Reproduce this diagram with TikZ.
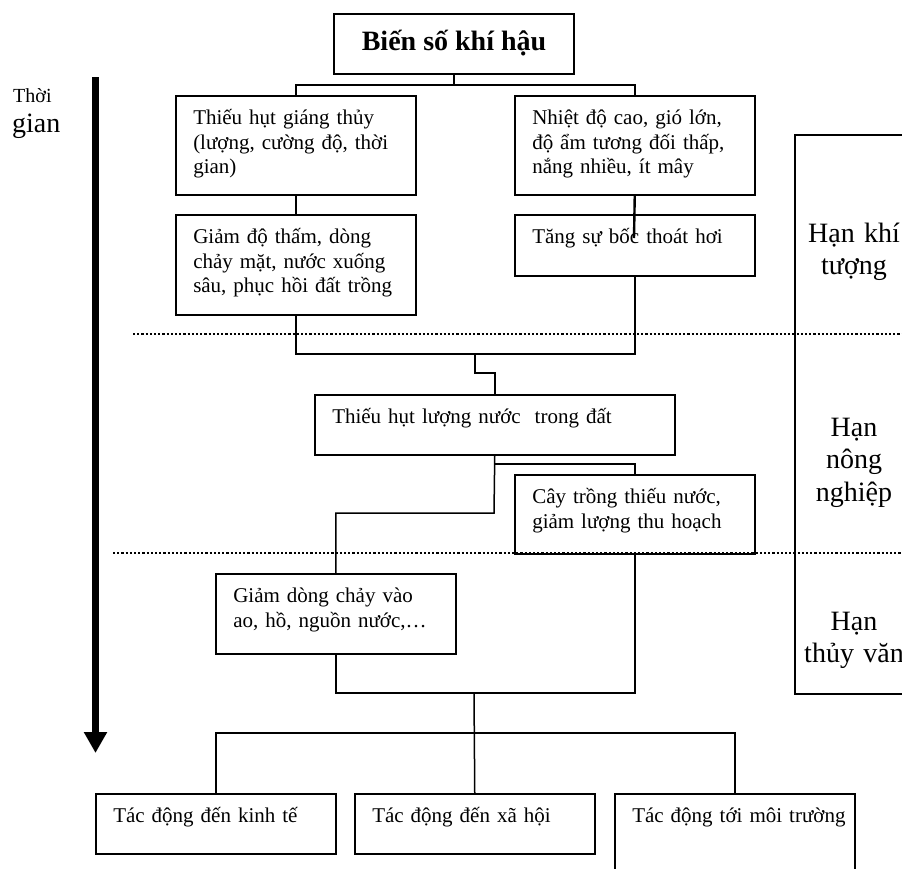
\documentclass[tikz,border=0pt]{standalone}
\usepackage{fontspec}
\setmainfont{Liberation Serif}
\usetikzlibrary{arrows.meta,positioning,calc}
\tikzset{hanbox/.style={draw,line width=1.5pt,anchor=north west,align=left,inner xsep=17.5pt,inner ysep=0pt,text width=205pt,text height=29pt,font=\fontsize{21}{24.3}\selectfont},hanlink/.style={line width=1.5pt},hanzone/.style={font=\fontsize{28}{32.5}\selectfont,text width=120pt,align=center,anchor=base,inner sep=0pt},hansep/.style={line width=2.2pt,dash pattern=on 2.1pt off 2.1pt}}

\begin{document}
\begin{tikzpicture}[x=1pt,y=-1pt]
\useasboundingbox (0,0) rectangle (902,868);
\clip (0,0) rectangle (902,868);
\node[draw,line width=1.5pt,minimum width=240pt,minimum height=60pt,inner sep=0pt,text height=20pt,text depth=8pt,font=\fontsize{28}{32}\selectfont\bfseries] (bien) at (454,44) {Biến số khí hậu};
\node[hanbox,text depth=70pt] (giang) at (175,95) {Thiếu hụt giáng thủy\\(lượng, cường độ, thời\\gian)};
\node[hanbox,text depth=70pt] (nhiet) at (514,95) {Nhiệt độ cao, gió lớn,\\độ ẩm tương đối thấp,\\nắng nhiều, ít mây};
\node[hanbox,text depth=71pt] (tham) at (175,214) {Giảm độ thấm, dòng\\chảy mặt, nước xuống\\sâu, phục hồi đất trồng};
\node[hanbox,text depth=32pt] (boc) at (514,214) {Tăng sự bốc thoát hơi};
\node[hanbox,text width=325pt,text depth=31pt] (dat) at (314,394) {Thiếu hụt lượng nước\ \ trong đất};
\node[hanbox,text depth=50pt] (cay) at (514,474) {Cây trồng thiếu nước,\\giảm lượng thu hoạch};
\node[hanbox,text depth=51pt] (dong) at (215,573) {Giảm dòng chảy vào\\ao, hồ, nguồn nước,…};
\node[hanbox,text depth=31pt] (kt) at (95,793) {Tác động đến kinh tế};
\node[hanbox,text depth=31pt] (xh) at (354,793) {Tác động đến xã hội};
\node[hanbox,text depth=71pt] (mt) at (614,793) {\mbox{Tác động tới môi trường}};
\node[draw,line width=1.5pt,anchor=north west,minimum width=120pt,minimum height=559pt,inner sep=0pt] (han) at (794,134) {};
\node[hanzone] (khi) at (854,242) {Hạn khí\\tượng};
\node[hanzone] (nong) at (854,436) {Hạn\\nông\\nghiệp};
\node[hanzone] (thuy) at (854,630) {Hạn\\thủy văn};
\node[anchor=base west,inner sep=0pt,font=\fontsize{20}{24}\selectfont] (thoi) at (13,102) {Thời};
\node[anchor=base west,inner sep=0pt,font=\fontsize{28}{32}\selectfont] (gian) at (12,132) {gian};
\coordinate (j1) at (454,85);
\coordinate (j2) at (475,354);
\coordinate (j3) at (475,373);
\coordinate (j4) at (494,513);
\coordinate (j5) at (494,464);
\coordinate (j6) at (474,693);
\coordinate (j7) at (474,733);
\coordinate (dcut) at (634,238);
\draw[hanlink] (bien.south) -- (j1);
\draw[hanlink] (giang.north) |- (j1) -| (nhiet.north);
\draw[hanlink] (giang.south) -- (tham.north);
\draw[line width=2.4pt] (nhiet.south) -- (dcut);
\draw[hanlink] (tham.south) |- (j2) -| (boc.south);
\draw[hanlink] (j2) -- (j3) -| (dat.north);
\draw[hanlink] (dat.south) -- (j4) -| (dong.north);
\draw[hanlink] (j5) -| (cay.north);
\draw[hanlink] (dong.south) |- (j6) -| (cay.south);
\draw[hanlink] (j6) -- (xh.north);
\draw[hanlink] (kt.north) |- (j7) -| (mt.north);
\draw[hansep] (133,334) -- (902,334);
\draw[hansep] (113,553) -- (902,553);
\draw[line width=7pt,-{Triangle[width=22pt,length=21pt]}] (95.5,77) -- (95.5,753);
\end{tikzpicture}
\end{document}
